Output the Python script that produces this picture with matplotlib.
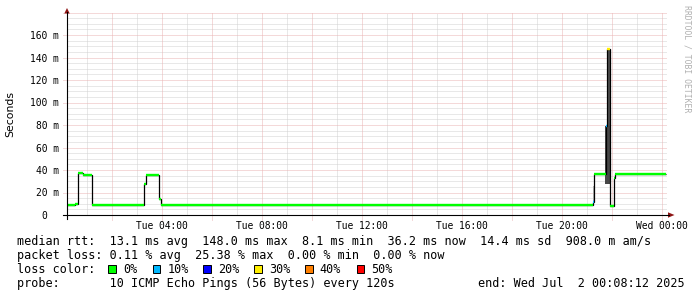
import numpy as np
import matplotlib
matplotlib.use('Agg')
import matplotlib.pyplot as plt
from matplotlib.patches import Rectangle, Polygon
from matplotlib.lines import Line2D

# ---------------- data ----------------
# median RTT as steps: start hour (since Tue 00:00), median ms, loss %
step_start_h = [0.176, 0.508, 0.608, 0.84, 1.2, 3.28, 3.348, 3.88, 3.936,
                21.216, 21.28, 21.748, 21.8, 21.888, 22.08, 22.12]
step_median_ms = [8.6, 9.8, 37.0, 35.2, 8.6, 28.0, 35.4, 14.0, 8.5,
                  11.8, 36.4, 79.0, 148.0, 8.3, 32.6, 36.4]
step_loss_pct = [0, 0, 0, 0, 0, 0, 0, 0, 0,
                 10, 0, 10, 30, 0, 0, 0]
data_end_h = 24.136

# smoke (ping spread) blocks
smoke_start_h = [21.216, 21.72, 21.8]
smoke_end_h = [21.28, 21.888, 21.888]
smoke_lo_ms = [11.8, 28.0, 79.0]
smoke_hi_ms = [25.8, 79.0, 148.0]
smoke_gray = ['#b4b4b4', '#474747', '#505050']

y_tick_ms = [0, 20, 40, 60, 80, 100, 120, 140, 160]
y_tick_labels = ['0  ', '20 m', '40 m', '60 m', '80 m', '100 m', '120 m', '140 m', '160 m']
x_tick_h = [4, 8, 12, 16, 20, 24]
x_tick_labels = ['Tue 04:00', 'Tue 08:00', 'Tue 12:00', 'Tue 16:00', 'Tue 20:00', 'Wed 00:00']

loss_levels = ['0%', '10%', '20%', '30%', '40%', '50%']
loss_colors = ['#00ff00', '#00b8ff', '#0000ff', '#ffee00', '#ff7f00', '#ff0000']

rtt_items = ['median rtt:', '13.1 ms avg', '148.0 ms max', '8.1 ms min',
             '36.2 ms now', '14.4 ms sd', '908.0 m am/s']
loss_items = ['packet loss:', '0.11 % avg', '25.38 % max', '0.00 % min', '0.00 % now']
probe_label = 'probe:'
probe_text = '10 ICMP Echo Pings (56 Bytes) every 120s'
end_text = 'end: Wed Jul  2 00:08:12 2025'

# ---------------- layout ----------------
W, H = 697, 297
def fx(x): return x / W
def fy(y): return 1 - y / H

fig = plt.figure(figsize=(W / 100, H / 100), dpi=100)
fig.patch.set_facecolor('white')
AX_L, AX_R, AX_B, AX_T = 67, 667, 215, 12.5
ax = fig.add_axes([fx(AX_L), fy(AX_B), (AX_R - AX_L) / W, (AX_B - AX_T) / H])
x0 = 4 - (162.3 - AX_L) / 25.0
ax.set_xlim(x0, x0 + 24)
ax.set_ylim(0, 180)
for s in ax.spines.values():
    s.set_visible(False)

mono = 'DejaVu Sans Mono'
minor_c = '#d2d2d2'
major_c = '#ebb4b4'
dot = (0, (1, 1))

# grid
for h in range(1, 25):
    if x0 < h < x0 + 24:
        if h % 2 == 0:
            ax.axvline(h, ymin=-5 / 202.5, ymax=1, color=major_c, lw=0.72,
                       ls=dot, clip_on=False, zorder=1)
        else:
            ax.axvline(h, color=minor_c, lw=0.72, ls=dot, zorder=0.5)
for v in range(5, 181, 5):
    if v % 20 == 0:
        ax.axhline(v, xmin=-4 / 600, xmax=1, color=major_c, lw=0.72, ls=dot,
                   clip_on=False, zorder=1)
    else:
        ax.axhline(v, color=minor_c, lw=0.72, ls=dot, zorder=0.5)

# smoke
for s, e, lo, hi, c in zip(smoke_start_h, smoke_end_h, smoke_lo_ms, smoke_hi_ms, smoke_gray):
    ax.fill_between([s, e], [lo, lo], [hi, hi], color=c, lw=0, zorder=2)

# median line
edges = list(step_start_h) + [data_end_h]
ax.stairs(step_median_ms, edges, baseline=None, color='black', lw=0.9, zorder=3)
seg_colors = [loss_colors[p // 10] for p in step_loss_pct]
ax.hlines(step_median_ms, step_start_h, edges[1:], colors=seg_colors, lw=1.7,
          zorder=4, capstyle='butt')

# ticks
ax.set_xticks(x_tick_h)
ax.set_xticklabels(x_tick_labels, fontfamily=mono, fontsize=6.9)
ax.set_yticks(y_tick_ms)
ax.set_yticklabels(y_tick_labels, fontfamily=mono, fontsize=6.9)
ax.tick_params(axis='both', length=0)
ax.tick_params(axis='x', pad=4.0)
ax.tick_params(axis='y', pad=5.8)

# axis lines + arrows
fig.add_artist(Line2D([fx(63), fx(669)], [fy(AX_B), fy(AX_B)], color='black', lw=0.8))
fig.add_artist(Line2D([fx(AX_L), fx(AX_L)], [fy(219), fy(12)], color='black', lw=0.8))
arrow_c = '#8f1515'
fig.add_artist(Polygon([[fx(668), fy(212.3)], [fx(674.5), fy(215)], [fx(668), fy(217.7)]],
                       closed=True, color=arrow_c, lw=0))
fig.add_artist(Polygon([[fx(64.3), fy(13.5)], [fx(67), fy(8)], [fx(69.7), fy(13.5)]],
                       closed=True, color=arrow_c, lw=0))

# y label and watermark
fig.text(fx(10), fy(114), 'Seconds', rotation=90, ha='center', va='center',
         fontsize=7.8, fontfamily='DejaVu Sans')
fig.text(fx(686.5), fy(59), 'RRDTOOL / TOBI OETIKER', rotation=270, ha='center',
         va='center', fontsize=5.9, fontfamily=mono, color='#b0b0b0')

# legend text
LFS = 8.45
X0 = 16.7
line1 = rtt_items[0] + '  ' + '  '.join(rtt_items[1:])
line2 = loss_items[0] + ' ' + '  '.join(loss_items[1:])
fig.text(fx(X0), fy(245.3), line1, fontfamily=mono, fontsize=LFS, va='baseline')
fig.text(fx(X0), fy(259.2), line2, fontfamily=mono, fontsize=LFS, va='baseline')
fig.text(fx(X0), fy(273.1), 'loss color:', fontfamily=mono, fontsize=LFS, va='baseline')
box_x = [108.3, 152.7, 203.3, 254.3, 305, 356.7]
for lbl, c, x in zip(loss_levels, loss_colors, box_x):
    fig.add_artist(Rectangle((fx(x), fy(273)), 7.7 / W, 8.3 / H, facecolor=c,
                             edgecolor='black', lw=0.7))
    fig.text(fx(x + 14.8), fy(273.1), lbl, fontfamily=mono, fontsize=LFS, va='baseline')
fig.text(fx(X0), fy(287), probe_label.ljust(13) + probe_text, fontfamily=mono,
         fontsize=LFS, va='baseline')
fig.text(fx(478.3), fy(287), end_text, fontfamily=mono, fontsize=LFS, va='baseline')

fig.savefig('out.png', dpi=100, facecolor='white')
